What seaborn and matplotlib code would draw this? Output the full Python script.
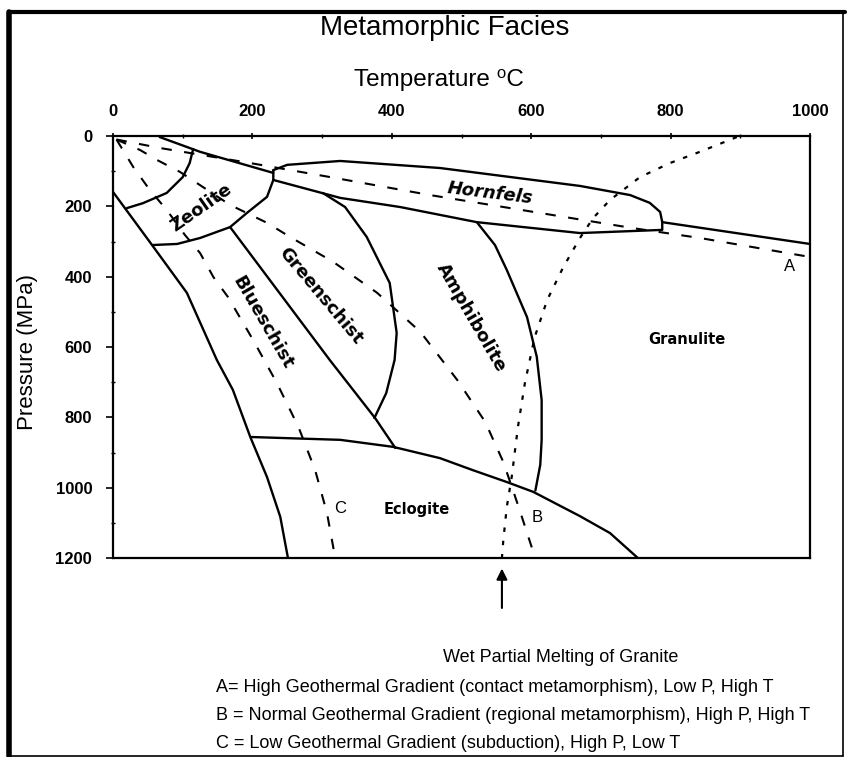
import matplotlib
matplotlib.use('Agg')
import matplotlib.pyplot as plt
import seaborn as sns
from matplotlib import font_manager
from matplotlib.lines import Line2D

# ── Data (temperature in degC, pressure in MPa) ─────────────────────────────
temp_ticks = [0, 200, 400, 600, 800, 1000]
pres_ticks = [0, 200, 400, 600, 800, 1000, 1200]

contact_T = [67, 125, 230]
contact_P = [3, 45, 105]
contact_ext_T = [788, 1000]
contact_ext_P = [245, 307]

hornfels_top_T = [230, 250, 326, 469, 670, 742, 770, 785, 788]
hornfels_top_P = [97, 82, 71, 91, 142, 168, 190, 216, 245]
hornfels_bot_T = [230, 230, 326, 412, 522, 670, 788, 788]
hornfels_bot_P = [97, 125, 176, 202, 245, 276, 267, 245]

zeolite_inner_T = [115, 110, 100, 77, 43, 20]
zeolite_inner_P = [37, 77, 117, 162, 191, 205]
zeolite_outer_T = [230, 221, 192, 168, 125, 92, 57]
zeolite_outer_P = [125, 173, 219, 259, 290, 307, 310]

blue_left_T = [0, 56, 106, 149, 172, 197, 221, 240, 251]
blue_left_P = [159, 310, 446, 637, 722, 856, 970, 1083, 1200]
blue_green_T = [168, 311, 376, 405]
blue_green_P = [259, 637, 802, 887]
green_amph_T = [301, 333, 364, 397, 407, 404, 392, 375]
green_amph_P = [162, 202, 287, 418, 560, 637, 731, 802]
amph_gran_T = [522, 548, 565, 594, 608, 615, 615, 613, 606]
amph_gran_P = [245, 310, 381, 515, 628, 751, 864, 935, 1008]
eclogite_T = [199, 326, 402, 469, 516, 565, 603, 670, 713, 753]
eclogite_P = [856, 864, 884, 916, 950, 984, 1012, 1081, 1129, 1200]

grad_A_T = [5, 67, 197, 312, 455, 613, 746, 842, 1000]
grad_A_P = [10, 34, 77, 117, 168, 219, 262, 290, 344]
grad_B_T = [5, 39, 63, 96, 168, 221, 254, 316, 379, 441, 494, 534, 560, 582, 602]
grad_B_P = [10, 40, 68, 102, 196, 247, 287, 358, 446, 557, 694, 813, 927, 1055, 1177]
grad_C_T = [5, 29, 53, 77, 103, 125, 144, 165, 201, 235, 266, 290, 307, 318]
grad_C_P = [10, 88, 154, 210, 281, 333, 401, 458, 580, 702, 827, 950, 1072, 1191]

wet_T = [895, 842, 799, 756, 713, 689, 670, 646, 623, 605, 591, 581, 572, 565, 560, 558]
wet_P = [3, 45, 77, 117, 182, 233, 290, 373, 466, 572, 702, 827, 970, 1055, 1149, 1200]

# facies labels: name, T, P, rotation, size, style
facies = [
    ('Zeolite', 126, 205, 35, 13, 'normal'),
    ('Greenschist', 298, 455, -50, 13, 'normal'),
    ('Blueschist', 215, 532, -60, 13, 'normal'),
    ('Amphibolite', 514, 515, -60, 13, 'normal'),
    ('Hornfels', 541, 162, -7, 13, 'italic'),
    ('Granulite', 824, 580, 0, 10.5, 'normal'),
    ('Eclogite', 436, 1063, 0, 10.5, 'normal'),
]
gradient_labels = [('A', 971, 372), ('B', 608, 1086), ('C', 326, 1058)]

notes = [
    'A= High Geothermal Gradient (contact metamorphism), Low P, High T',
    'B = Normal Geothermal Gradient (regional metamorphism), High P, High T',
    'C = Low Geothermal Gradient (subduction), High P, Low T',
]

# ── Figure ──────────────────────────────────────────────────────────────────
sns.set_theme(style='white')
plt.rcParams['font.family'] = ['Liberation Sans', 'DejaVu Sans']
plt.rcParams['text.color'] = 'black'
plt.rcParams['axes.labelcolor'] = 'black'
names = {f.name for f in font_manager.fontManager.ttflist}
narrow = 'Liberation Sans Narrow' if 'Liberation Sans Narrow' in names else 'Liberation Sans'

W, H = 847, 757
fig = plt.figure(figsize=(W / 100, H / 100), dpi=100)
fig.patch.set_facecolor('white')
ax = fig.add_axes([113 / W, 1 - 558 / H, 697 / W, 422 / H])


def curve(T, P, style='-', lw=1.6):
    sns.lineplot(x=T, y=P, sort=False, estimator=None, ax=ax,
                 color='black', linewidth=lw, linestyle=style)


solid = [(contact_T, contact_P), (contact_ext_T, contact_ext_P),
         (hornfels_top_T, hornfels_top_P), (hornfels_bot_T, hornfels_bot_P),
         (zeolite_inner_T, zeolite_inner_P), (zeolite_outer_T, zeolite_outer_P),
         (blue_left_T, blue_left_P), (blue_green_T, blue_green_P),
         (green_amph_T, green_amph_P), (amph_gran_T, amph_gran_P),
         (eclogite_T, eclogite_P)]
for T, P in solid:
    curve(T, P, '-', 1.7)

for T, P in [(grad_A_T, grad_A_P), (grad_B_T, grad_B_P), (grad_C_T, grad_C_P)]:
    curve(T, P, (0, (5, 6)), 1.5)

curve(wet_T, wet_P, (0, (2, 4)), 1.6)

ax.set_xlim(0, 1000)
ax.set_ylim(1200, 0)
ax.set_xlabel('')
ax.set_ylabel('')
ax.xaxis.tick_top()
ax.set_xticks(temp_ticks)
ax.set_xticks(range(0, 1001, 100), minor=True)
ax.set_yticks(pres_ticks)
ax.set_yticks(range(0, 1201, 100), minor=True)
ax.tick_params(axis='x', which='major', direction='inout', length=5, width=1.2,
               pad=10, labelsize=12, colors='black')
ax.tick_params(axis='x', which='minor', direction='inout', length=3, width=1, colors='black')
ax.tick_params(axis='y', which='major', direction='out', length=5, width=1.2,
               pad=10, labelsize=12, colors='black')
ax.tick_params(axis='y', which='minor', direction='inout', length=3, width=1, colors='black')
ax.tick_params(top=True, bottom=False, left=True, right=False, which='both')
for lbl in ax.get_xticklabels() + ax.get_yticklabels():
    lbl.set_fontweight('bold')
for sp in ax.spines.values():
    sp.set_visible(True)
    sp.set_color('black')
    sp.set_linewidth(1.6)

for name, t, p, rot, size, style in facies:
    ax.text(t, p, name, rotation=rot, rotation_mode='anchor', ha='center', va='center',
            fontsize=size, fontweight='bold', style=style, family='DejaVu Sans',
            color='black')
for name, t, p in gradient_labels:
    ax.text(t, p, name, ha='center', va='center', fontsize=12, color='black')

# arrow for wet partial melting of granite
ax.annotate('', xy=(wet_T[-1], 1222), xytext=(wet_T[-1], 1350),
            arrowprops=dict(arrowstyle='-|>', color='black', lw=1.5, mutation_scale=16),
            annotation_clip=False)


def ftxt(x, y, s, **kw):
    fig.text(x / W, 1 - y / H, s, color='black', **kw)


ftxt(445, 28, 'Metamorphic Facies', ha='center', va='center', fontsize=20)
ftxt(439, 80, 'Temperature \u2070C', ha='center', va='center', fontsize=17.5)
ftxt(27, 352, 'Pressure (MPa)', ha='center', va='center', fontsize=16, rotation=90)
ftxt(443, 657, 'Wet Partial Melting of Granite', ha='left', va='center',
     fontsize=13, family=narrow)
for i, note in enumerate(notes):
    ftxt(216, 688 + 28 * i, note, ha='left', va='center', fontsize=13, family=narrow)

# outer frame of the picture
fig.add_artist(Line2D([9 / W, 9 / W], [1 - 12 / H, 1 - 756 / H], color='black', lw=4,
                      transform=fig.transFigure))
fig.add_artist(Line2D([9 / W, 845 / W], [1 - 12 / H, 1 - 12 / H], color='black', lw=3,
                      transform=fig.transFigure))
fig.add_artist(Line2D([843 / W, 843 / W], [1 - 12 / H, 1 - 756 / H], color='black', lw=1.2,
                      transform=fig.transFigure))
fig.add_artist(Line2D([9 / W, 843 / W], [1 - 756 / H, 1 - 756 / H], color='black', lw=1.2,
                      transform=fig.transFigure))

fig.savefig('out.png', dpi=100, facecolor='white')
